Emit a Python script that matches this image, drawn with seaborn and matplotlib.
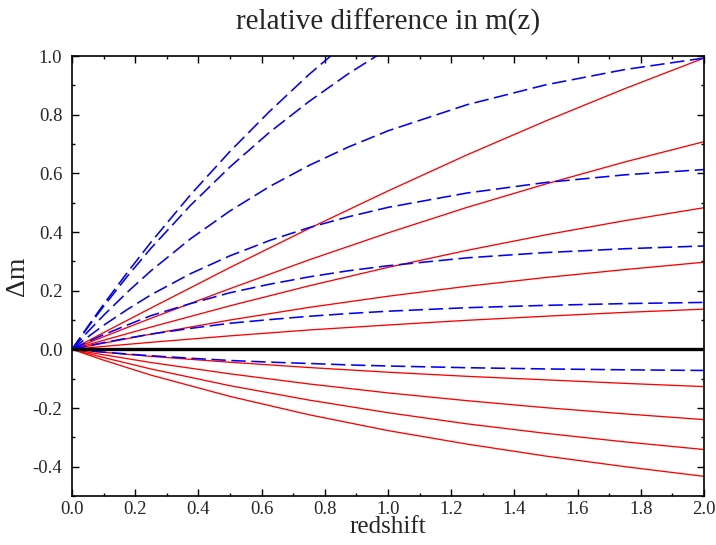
import numpy as np
import pandas as pd
import matplotlib
matplotlib.use("Agg")
import matplotlib.pyplot as plt
from matplotlib.ticker import MultipleLocator, FormatStrFormatter
import seaborn as sns

# redshift sample points
z_red = [0.0, 0.1, 0.25, 0.5, 0.75, 1.0, 1.25, 1.5, 1.75, 2.0]
z_blue = [0.0, 0.05, 0.1, 0.175, 0.25, 0.375, 0.5, 0.625, 0.75, 0.875,
          1.0, 1.25, 1.5, 1.75, 2.0]

# red solid curves
red_curves = [
    [0.0, 0.057, 0.141, 0.279, 0.412, 0.540, 0.663, 0.779, 0.889, 0.993],
    [0.0, 0.043, 0.106, 0.207, 0.305, 0.397, 0.484, 0.564, 0.639, 0.708],
    [0.0, 0.031, 0.076, 0.1485, 0.2165, 0.2795, 0.3375, 0.3905, 0.4388, 0.4828],
    [0.0, 0.021, 0.052, 0.100, 0.143, 0.181, 0.215, 0.245, 0.272, 0.297],
    [0.0, 0.010, 0.024, 0.046, 0.066, 0.083, 0.099, 0.113, 0.126, 0.137],
    [0.0, -0.010, -0.024, -0.044, -0.062, -0.078, -0.092, -0.104, -0.116, -0.127],
    [0.0, -0.0185, -0.045, -0.0835, -0.118, -0.1485, -0.175, -0.199, -0.220, -0.2395],
    [0.0, -0.028, -0.067, -0.124, -0.173, -0.216, -0.254, -0.2865, -0.3155, -0.3415],
    [0.0, -0.037, -0.088, -0.1605, -0.223, -0.277, -0.323, -0.364, -0.400, -0.433],
]

# blue dashed curves (NaN = above the frame)
nan = np.nan
blue_curves = [
    [0.0, 0.078, 0.1535, 0.262, 0.3655, 0.527, 0.675, 0.811, 0.937, 1.052,
     1.159, nan, nan, nan, nan],
    [0.0, 0.075, 0.147, 0.249, 0.345, 0.491, 0.622, 0.740, 0.845, 0.940,
     1.025, nan, nan, nan, nan],
    [0.0, 0.060, 0.116, 0.195, 0.268, 0.377, 0.472, 0.555, 0.627, 0.690,
     0.745, 0.834, 0.902, 0.954, 0.993],
    [0.0, 0.042, 0.082, 0.136, 0.186, 0.258, 0.319, 0.371, 0.415, 0.452,
     0.484, 0.533, 0.569, 0.595, 0.613],
    [0.0, 0.026, 0.050, 0.083, 0.115, 0.156, 0.193, 0.222, 0.247, 0.268,
     0.285, 0.312, 0.330, 0.343, 0.3525],
    [0.0, 0.012, 0.023, 0.038, 0.052, 0.0715, 0.089, 0.1014, 0.1127, 0.1221,
     0.130, 0.142, 0.150, 0.156, 0.160],
    [0.0, -0.005, -0.0096, -0.016, -0.0218, -0.0303, -0.038, -0.0436, -0.0482,
     -0.0531, -0.0568, -0.0626, -0.0668, -0.0698, -0.072],
]

z_ref = [0.0, 2.0]
reference = [0.0, 0.0]

x_ticks = [0.0, 0.2, 0.4, 0.6, 0.8, 1.0, 1.2, 1.4, 1.6, 1.8, 2.0]
y_ticks = [-0.4, -0.2, 0.0, 0.2, 0.4, 0.6, 0.8, 1.0]

sns.set_style("ticks")
plt.rcParams["font.family"] = ["Liberation Serif", "DejaVu Serif"]
plt.rcParams["axes.unicode_minus"] = False

fig = plt.figure(figsize=(7.16, 5.45), dpi=100)
ax = fig.add_axes([0.1006, 0.0899, 0.8826, 0.8073])

for vals in red_curves:
    sns.lineplot(x=z_red, y=vals, ax=ax, color="#ff0000", linewidth=0.95,
                 estimator=None, sort=False)

for vals in blue_curves:
    sns.lineplot(x=z_blue, y=vals, ax=ax, color="#0000ff", linewidth=1.15,
                 estimator=None, sort=False, dashes=False,
                 linestyle=(0, (9, 3.5)))

sns.lineplot(x=z_ref, y=reference, ax=ax, color="black", linewidth=2.4,
             estimator=None, sort=False)

ax.set_xlim(0.0, 2.0)
ax.set_ylim(-0.5, 1.0)
ax.set_xticks(x_ticks)
ax.set_yticks(y_ticks)
ax.xaxis.set_major_formatter(FormatStrFormatter("%.1f"))
ax.yaxis.set_major_formatter(FormatStrFormatter("%.1f"))
ax.xaxis.set_minor_locator(MultipleLocator(0.1))
ax.yaxis.set_minor_locator(MultipleLocator(0.1))
ax.tick_params(which="both", direction="in", top=True, right=True,
               labelsize=13.5, width=1.0, color="black")
ax.tick_params(axis="y", pad=7)
ax.tick_params(axis="x", pad=3.5)
ax.tick_params(which="major", length=5)
ax.tick_params(which="minor", length=2.5)
for s in ax.spines.values():
    s.set_linewidth(1.2)
    s.set_color("black")

ax.set_xlabel("redshift", fontsize=18, labelpad=-1)
ax.set_ylabel("Δm", fontsize=20, labelpad=2)
ax.set_title("relative difference in m(z)", fontsize=21, pad=19)

fig.savefig("out.png", dpi=100)
